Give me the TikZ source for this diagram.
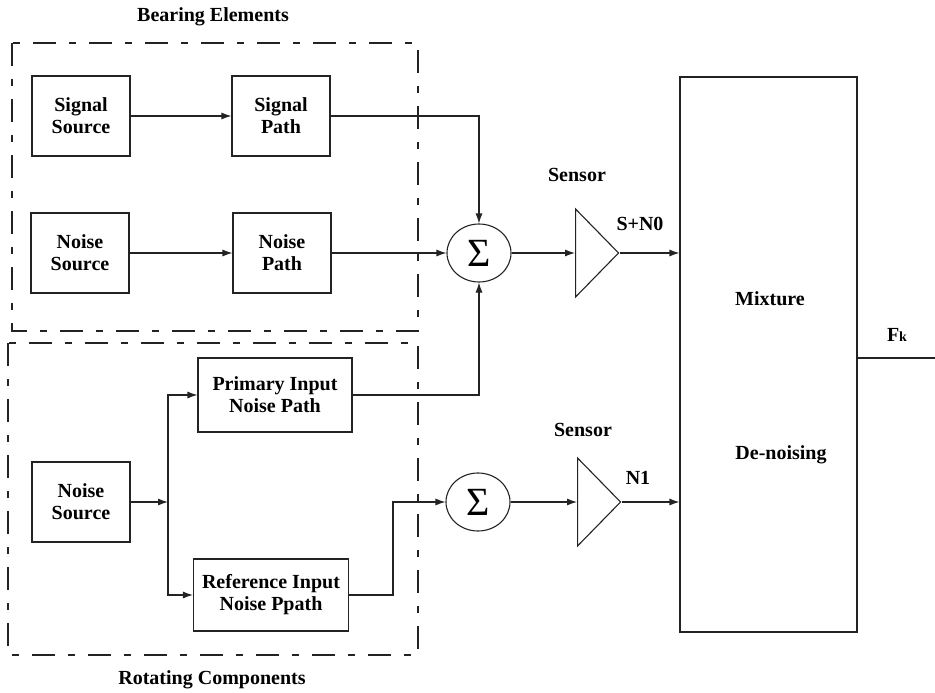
\documentclass[tikz,border=0pt]{standalone}
\usepackage{fontspec}
\setmainfont{Liberation Serif}
\usepackage{tikz}
\usetikzlibrary{shapes.geometric, arrows.meta, positioning, calc}
\definecolor{mydark}{RGB}{35,35,35}
\tikzset{
  block/.style={rectangle, draw=mydark, line width=1.1pt, align=center,
    font=\fontsize{20}{22}\selectfont\bfseries, inner sep=2pt},
  smallblock/.style={block, minimum width=98pt, minimum height=80pt},
  sumjunc/.style={ellipse, draw=mydark, line width=1.1pt, minimum width=64pt,
    minimum height=58pt, inner sep=0pt, font=\fontsize{40}{40}\selectfont},
  sensor/.style={isosceles triangle, isosceles triangle stretches, draw=mydark,
    line width=1.1pt, minimum width=88pt, minimum height=43pt, inner sep=0pt,
    anchor=lower side},
  lbl/.style={font=\fontsize{20}{22}\selectfont\bfseries, inner sep=0pt},
  groupbox/.style={draw=mydark, line width=1.1pt, dash pattern=on 23pt off 13pt on 7pt off 13pt},
  arrow/.style={-{Latex[length=10pt,width=7pt]}, line width=1.1pt, color=mydark},
  line/.style={line width=1.1pt, color=mydark}
}
\begin{document}
\begin{tikzpicture}[x=1pt, y=-1pt]
  \useasboundingbox (0,0) rectangle (935,693);

  % --- Bearing Elements ---
  \node[lbl] (bearlbl) at (213,17) {Bearing Elements};
  \draw[groupbox] (12,43) rectangle (418,331);
  \node[smallblock] (sigsrc) at (81,116) {Signal\\Source};
  \node[smallblock] (sigpath) at (281,116) {Signal\\Path};
  \node[smallblock] (nsrc1) at (80,253) {Noise\\Source};
  \node[smallblock] (npath1) at (282,253) {Noise\\Path};

  \draw[arrow] (sigsrc) -- (sigpath);
  \draw[arrow] (nsrc1) -- (npath1);

  % --- Rotating Components ---
  \draw[groupbox] (8,343) rectangle (418,655);
  \node[lbl] (rotlbl) at (212,680) {Rotating Components};
  \node[smallblock] (nsrc2) at (81,502) {Noise\\Source};
  \node[block, minimum width=154pt, minimum height=74pt] (prim) at (275,395) {Primary Input\\Noise Path};
  \node[block, minimum width=155pt, minimum height=72pt] (ref) at (271,595) {Reference Input\\Noise Ppath};
  \coordinate (branch) at (168,502);
  \coordinate (refturn) at (393,502);

  \draw[arrow] (nsrc2) -- (branch);
  \draw[arrow] (branch) |- (prim);
  \draw[arrow] (branch) |- (ref);

  % --- Summing junctions and sensors ---
  \node[sumjunc] (sum1) at (479,253) {Σ};
  \node[sumjunc] (sum2) at (478,502) {Σ};
  \node[sensor] (sen1) at (575,253) {};
  \node[sensor] (sen2) at (577,502) {};
  \node[lbl] (sen1lbl) at (577,175) {Sensor};
  \node[lbl] (sen1out) at (640,224) {S+N0};
  \node[lbl] (sen2lbl) at (583,430) {Sensor};
  \node[lbl] (sen2out) at (638,478) {N1};

  \draw[arrow] (sigpath) -| (sum1);
  \draw[arrow] (npath1) -- (sum1);
  \draw[arrow] (prim) -| (sum1);
  \draw[arrow] (ref.east) -| (refturn) -- (sum2);
  \draw[arrow] (sum1.east) -- (sen1.lower side);
  \draw[arrow] (sum2.east) -- (sen2.lower side);

  % --- Mixture de-noising ---
  \node[draw=mydark, line width=1.1pt, minimum width=177pt, minimum height=555pt] (mix) at (768.5,354.5) {};
  \node[lbl] (mixlbl) at (770,299) {Mixture};
  \node[lbl] (denlbl) at (781,455) {De-noising};
  \coordinate (fkend) at (935,358);
  \node[lbl] (fklbl) at (897,335) {F{\fontsize{14}{14}\selectfont k}};

  \draw[arrow] (sen1.apex) -- (sen1.apex -| mix.west);
  \draw[arrow] (sen2.apex) -- (sen2.apex -| mix.west);
  \draw[line] (mix.east |- fkend) -- (fkend);
\end{tikzpicture}
\end{document}
